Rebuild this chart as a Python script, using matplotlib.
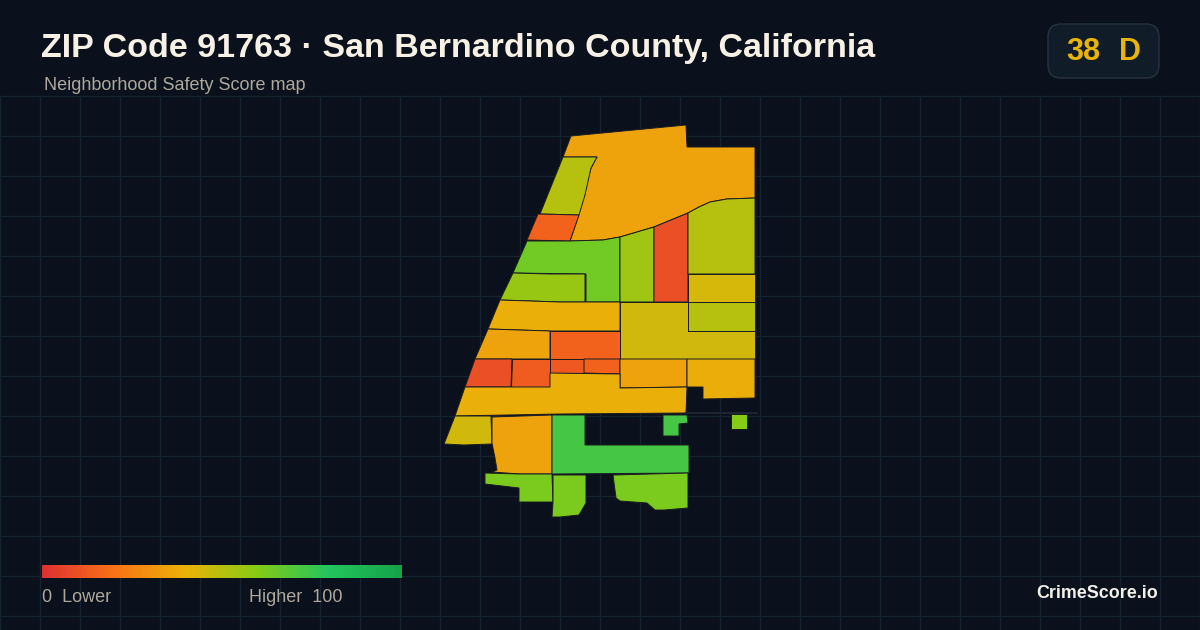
from matplotlib import pyplot as plt
from matplotlib.colors import LinearSegmentedColormap
from matplotlib.patches import FancyBboxPatch, Polygon
import numpy as np

title = "ZIP Code 91763 · San Bernardino County, California"
subtitle = "Neighborhood Safety Score map"
badge_score = "38"
badge_grade = "D"
brand = "CrimeScore.io"

# legend colours, low to high
legend_stops = [0, 0.2, 0.4, 0.6, 0.8, 1]
legend_colors = ["#e03131", "#f97316", "#eab308", "#84cc16", "#22c55e", "#16a34a"]

# tract outlines in picture pixels + score of each tract
tract_outlines = [
    [(571,136),(686,125),(687,147),(755,147),(755,198),(727,199),(710,202),(699,207),(688,213),(671,220),(654,227),(637,232),(620,237),(603,240),(570,241),(578,217),(586,185),(591,168),(597,157),(563,157)],
    [(563,157),(597,157),(591,168),(585,195),(579,215),(540,214)],
    [(538,214),(579,215),(570,241),(527,240)],
    [(527,241),(570,241),(603,240),(620,237),(620,302),(586,302),(586,274),(513,273)],
    [(513,273),(549,274),(585,274),(585,302),(560,302),(500,300)],
    [(620,237),(637,232),(654,227),(654,302),(620,302)],
    [(654,227),(671,220),(688,213),(688,302),(654,302)],
    [(688,213),(699,207),(710,202),(727,199),(755,198),(755,274),(688,274)],
    [(688,274),(755,274),(755,302),(688,302)],
    [(500,300),(560,302),(620,302),(620,331),(550,331),(488,329)],
    [(620,302),(688,302),(688,331),(755,331),(755,359),(620,359)],
    [(688,302),(755,302),(755,331),(688,331)],
    [(488,329),(550,331),(550,359),(475,359)],
    [(550,331),(620,331),(620,359),(550,359)],
    [(475,359),(512,359),(511,387),(465,387)],
    [(512,359),(550,359),(550,387),(511,387)],
    [(550,359),(584,359),(584,373),(550,373)],
    [(584,359),(620,359),(620,374),(584,373)],
    [(620,359),(687,359),(687,387),(620,388)],
    [(687,359),(755,359),(755,398),(703,399),(703,387),(687,387)],
    [(465,387),(511,387),(550,387),(550,373),(620,374),(620,388),(687,387),(686,413),(560,414),(455,416)],
    [(455,416),(491,416),(492,444),(464,445),(444,444)],
    [(492,417),(552,415),(552,474),(520,474),(492,472),(497,470),(495,458),(492,443)],
    [(552,415),(585,415),(585,445),(689,445),(689,473),(552,474)],
    [(663,415),(687,415),(688,423),(679,424),(679,436),(663,436)],
    [(731,414),(747,414),(747,429),(731,429)],
    [(485,473),(519,474),(552,474),(553,502),(519,502),(519,488),(485,484)],
    [(553,475),(586,475),(586,503),(579,515),(560,517),(552,517),(553,502)],
    [(613,475),(688,473),(688,508),(664,510),(655,510),(647,503),(620,501),(616,498)],
]
tract_scores = [35, 50, 15, 64, 56, 55, 9, 50, 44, 39, 45, 50, 35, 15, 9, 13, 12, 15,
                35, 38, 39, 45, 35, 73, 73, 60, 62, 62, 62]

cmap = LinearSegmentedColormap.from_list("safety", list(zip(legend_stops, legend_colors)))

fig = plt.figure(figsize=(12, 6.3), dpi=100, facecolor="#0a111c")
ax = fig.add_axes([0, 0, 1, 1])
ax.set_xlim(0, 1200)
ax.set_ylim(630, 0)
ax.axis("off")

# background grid
for x in range(0, 1201, 40):
    ax.plot([x, x], [96, 630], color="#162431", lw=0.9, zorder=1)
for y in range(96, 630, 40):
    ax.plot([0, 1200], [y, y], color="#162431", lw=0.9, zorder=1)

for outline, score in zip(tract_outlines, tract_scores):
    ax.add_patch(Polygon(outline, closed=True, facecolor=cmap(score / 100),
                         edgecolor="#1a1d22", lw=0.7, zorder=2))
ax.plot([686, 757], [413, 413], color="#1c2733", lw=1.5, zorder=2)

plt.rcParams["font.family"] = ["Liberation Sans", "DejaVu Sans"]
ax.text(41, 48.5, title, color="#f7f0e4", fontsize=24.5, fontweight="bold", va="center", ha="left")
ax.text(44, 85, subtitle, color="#aea89c", fontsize=13, va="center", ha="left")

badge = FancyBboxPatch((1048, 24), 111, 54, boxstyle="round,pad=0,rounding_size=13",
                       facecolor="#111c29", edgecolor="#263341", lw=1, zorder=3)
ax.add_patch(badge)
ax.text(1083, 52, badge_score, color="#eab308", fontsize=22, fontweight="bold",
        va="center", ha="center", zorder=4)
ax.text(1130, 52, badge_grade, color="#eab308", fontsize=22, fontweight="bold",
        va="center", ha="center", zorder=4)

# legend bar
gradient = np.linspace(0, 1, 360).reshape(1, -1)
ax.imshow(gradient, cmap=cmap, extent=(42, 402, 578, 565), aspect="auto", zorder=3)
ax.set_xlim(0, 1200)
ax.set_ylim(630, 0)
ax.text(42, 597, "0  Lower", color="#aea89c", fontsize=13, va="center", ha="left")
ax.text(249, 597, "Higher  100", color="#aea89c", fontsize=13, va="center", ha="left")
ax.text(1158, 593.5, brand, color="#f2f0ea", fontsize=12.9, fontweight="bold", va="center", ha="right")

fig.savefig("out.png", dpi=100, facecolor=fig.get_facecolor())
